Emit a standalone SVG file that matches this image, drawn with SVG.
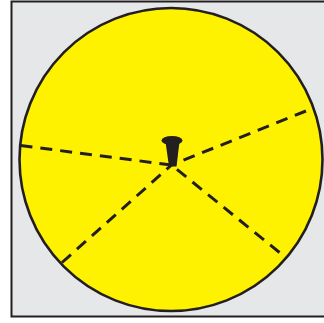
<svg xmlns="http://www.w3.org/2000/svg" width="324" height="323" viewBox="0 0 324 323">
<style>
.dash{stroke:#231f20;stroke-width:3;stroke-dasharray:12 8;fill:none}
</style>
<rect x="0" y="0" width="324" height="323" fill="#ffffff"/>
<g id="frame"><rect x="11.5" y="1.5" width="320" height="315" fill="#e6e7e8" stroke="#231f20" stroke-width="2"/></g>
<g id="disc"><circle cx="171" cy="159.5" r="151.5" fill="#fff200" stroke="#231f20" stroke-width="2.6"/></g>
<g id="connectors">
<line class="dash" x2="171.5" y2="165" x1="20.5" y1="145.5"/>
<line class="dash" x2="171.5" y2="165" x1="306" y1="111"/>
<line class="dash" x2="171.5" y2="165" x1="62" y1="262.5"/>
<line class="dash" x2="171.5" y2="165" x1="279.5" y1="252.5"/>
</g>
<g id="nail" fill="#231f20">
<ellipse cx="172" cy="140.5" rx="10.5" ry="4.5"/>
<path d="M165.5 142 L179.5 142 L176.5 166.5 L169 166.5 Z"/>
</g>
</svg>
